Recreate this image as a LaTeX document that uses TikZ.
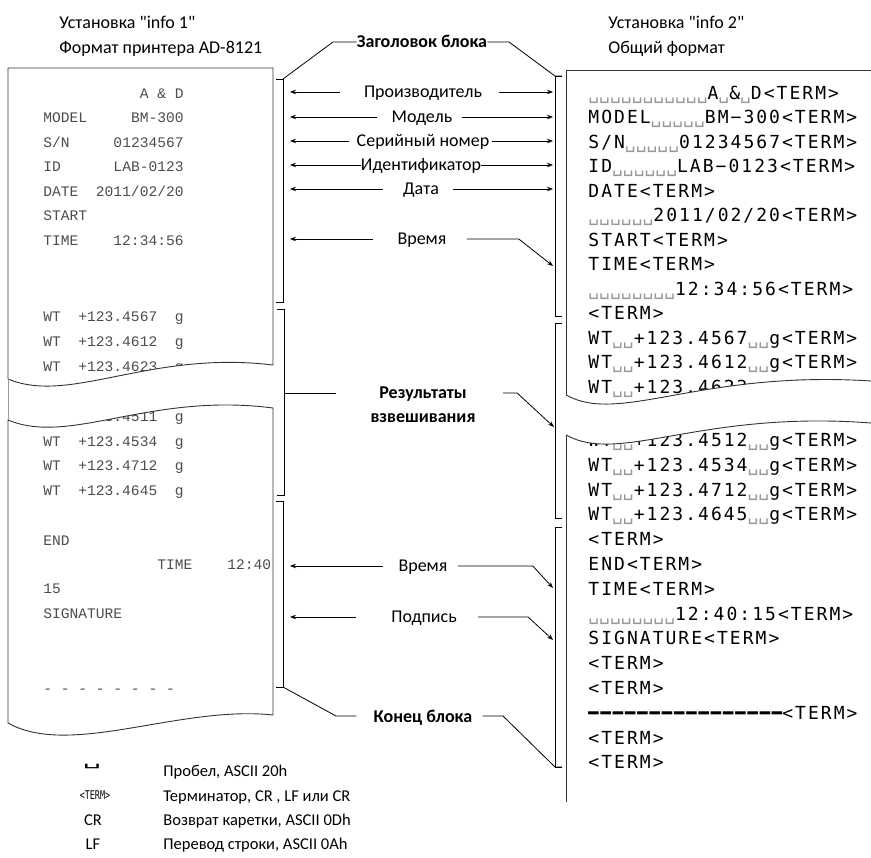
\documentclass[tikz,border=0pt]{standalone}
\usepackage{fontspec}
\setmainfont{Carlito}[Ligatures=TeXOff]
\newfontfamily\lmono{Liberation Mono}
\newfontfamily\rmono[LetterSpace=11.3]{DejaVu Sans Mono}
\newfontfamily\symfont{DejaVu Sans Mono}
\usetikzlibrary{arrows.meta}

% visible space and terminator
\newcommand{\spx}{{\color{black!40}\char"2423\relax}}
\newcommand{\sps}[1]{\foreach \n in {1,...,#1}{\spx}}
\newcommand{\dsh}[1]{\scalebox{0.951}[1]{\foreach \n in {1,...,#1}{\char"2501\relax}}}
\newcommand{\trm}{<TERM>}
\newcommand{\mns}{\char"2212\relax}

\tikzset{
  lbl/.style={inner sep=0pt, font=\fontsize{18}{20}\selectfont, text height=12pt, text depth=0pt},
  ttl/.style={lbl, font=\fontsize{18}{20}\selectfont\bfseries},
  lgd/.style={inner sep=0pt, anchor=west, font=\fontsize{16.5}{18}\selectfont, text height=11pt, text depth=0pt},
  lrow/.style={anchor=west, inner sep=0pt, text=black!70, font=\fontsize{14.6}{16}\lmono, text height=9pt, text depth=0pt},
  rrow/.style={anchor=west, inner sep=0pt, font=\fontsize{18}{20}\rmono, text height=13pt, text depth=0pt},
  paper/.style={line width=0.9pt, black!80},
}

\begin{document}
\begin{tikzpicture}[x=1pt, y=-1pt, line width=0.8pt, >={Stealth[length=6pt,width=4.5pt]}]
  \clip (0,0) rectangle (871,858);

  % headings
  \node[lbl, anchor=west] (set1) at (59,23) {Установка "info 1"};
  \node[lbl, anchor=west] (fmt1) at (59,48) {Формат принтера AD-8121};
  \node[lbl, anchor=west] (set2) at (608,23) {Установка "info 2"};
  \node[lbl, anchor=west] (fmt2) at (608,48) {Общий формат};

  % left printout
  \node[lrow] (l0) at (43,94) {~~~~~~~~~~~A~\&~D};
  \node[lrow] (l1) at (43,118.5) {MODEL~~~~~BM-300};
  \node[lrow] (l2) at (43,143) {S/N~~~~~01234567};
  \node[lrow] (l3) at (43,167.5) {ID~~~~~~LAB-0123};
  \node[lrow] (l4) at (43,192) {DATE~~2011/02/20};
  \node[lrow] (l5) at (43,216.5) {START};
  \node[lrow] (l6) at (43,241) {TIME~~~~12:34:56};
  \node[lrow] (l7) at (43,317) {WT~~+123.4567~~g};
  \node[lrow] (l8) at (43,342) {WT~~+123.4612~~g};
  \node[lrow] (l9) at (43,367) {WT~~+123.4623~~g};
  \node[lrow] (l10) at (43,417) {WT~~+123.4511~~g};
  \node[lrow] (l11) at (43,442) {WT~~+123.4534~~g};
  \node[lrow] (l12) at (43,466) {WT~~+123.4712~~g};
  \node[lrow] (l13) at (43,491) {WT~~+123.4645~~g};
  \node[lrow] (l14) at (43,541) {END};
  \node[lrow] (l15) at (43,565) {~~~~~~~~~~~~~TIME~~~~12:40};
  \node[lrow] (l16) at (43,589) {15};
  \node[lrow] (l17) at (43,614) {SIGNATURE};
  \node[lrow] (l18) at (43,689) {-~-~-~-~-~-~-~-};

  % right printout
  \node[rrow] (r0) at (588,93) {\sps{11}A\spx\&\spx D\trm};
  \node[rrow] (r1) at (588,117.5) {MODEL\sps{5}BM\mns 300\trm};
  \node[rrow] (r2) at (588,142) {S/N\sps{5}01234567\trm};
  \node[rrow] (r3) at (588,166.5) {ID\sps{6}LAB\mns 0123\trm};
  \node[rrow] (r4) at (588,191) {DATE\trm};
  \node[rrow] (r5) at (588,215.5) {\sps{6}2011/02/20\trm};
  \node[rrow] (r6) at (588,240) {START\trm};
  \node[rrow] (r7) at (588,264.5) {TIME\trm};
  \node[rrow] (r8) at (588,289) {\sps{8}12:34:56\trm};
  \node[rrow] (r9) at (588,313.5) {\trm};
  \node[rrow] (r10) at (588,338) {WT\sps{2}+123.4567\sps{2}g\trm};
  \node[rrow] (r11) at (588,362.5) {WT\sps{2}+123.4612\sps{2}g\trm};
  \node[rrow] (r12) at (588,387) {WT\sps{2}+123.4623\sps{2}g\trm};
  \node[rrow] (r13) at (588,440) {WT\sps{2}+123.4512\sps{2}g\trm};
  \node[rrow] (r14) at (588,464.8) {WT\sps{2}+123.4534\sps{2}g\trm};
  \node[rrow] (r15) at (588,489.6) {WT\sps{2}+123.4712\sps{2}g\trm};
  \node[rrow] (r16) at (588,514.4) {WT\sps{2}+123.4645\sps{2}g\trm};
  \node[rrow] (r17) at (588,539.2) {\trm};
  \node[rrow] (r18) at (588,564) {END\trm};
  \node[rrow] (r19) at (588,588.8) {TIME\trm};
  \node[rrow] (r20) at (588,613.6) {\sps{8}12:40:15\trm};
  \node[rrow] (r21) at (588,638.4) {SIGNATURE\trm};
  \node[rrow] (r22) at (588,663.2) {\trm};
  \node[rrow] (r23) at (588,688) {\trm};
  \node[rrow] (r24) at (588,712.8) {\dsh{16}\trm};
  \node[rrow] (r25) at (588,737.6) {\trm};
  \node[rrow] (r26) at (588,762.4) {\trm};

  % torn gaps
  \fill[white] (7,379) .. controls (70,405) and (150,350) .. (273,365) -- (273,408)
    .. controls (150,392) and (70,446) .. (7,420) -- cycle;
  \fill[white] (566,395) .. controls (620,425) and (700,370) .. (871,381) -- (875,381) -- (875,423)
    -- (871,423) .. controls (700,410) and (620,465) .. (566,435) -- cycle;

  % paper outlines
  \draw[paper] (273,365) -- (273,68) -- (8,68) -- (8,379) .. controls (70,405) and (150,350) .. (273,365);
  \draw[paper] (8,420) .. controls (70,446) and (150,392) .. (273,408) -- (273,715)
    .. controls (180,705) and (70,758) .. (8,723) -- cycle;
  \draw[black!40] (8,379) -- (8,420);
  \draw[paper] (566,395) .. controls (620,425) and (700,370) .. (871,381);
  \draw[paper] (566,395) -- (566,70) -- (880,70);
  \draw[paper] (566,435) .. controls (620,465) and (700,410) .. (871,423);
  \draw[paper] (566,435) -- (566,802);

  % brackets
  \draw (276,79) -- (283,79) -- (283,302) -- (276,302);
  \draw (277,309) -- (284,309) -- (284,495) -- (277,495);
  \draw (276,501) -- (283,501) -- (283,687) -- (276,687);
  \draw (562,76) -- (555,76) -- (555,316) -- (562,316);
  \draw (562,323) -- (555,323) -- (555,518) -- (562,518);
  \draw (562,527) -- (555,527) -- (555,767) -- (562,767);

  \coordinate (lt) at (290,0);
  \coordinate (rt) at (553,0);
  \coordinate (hdL) at (283,79);
  \coordinate (hdR) at (555,76);
  \coordinate (wtL) at (284,393);
  \coordinate (wtR) at (554,427);
  \coordinate (enL) at (283,687);
  \coordinate (enR) at (555,767);
  \coordinate (tm1R) at (553,266);
  \coordinate (tm2R) at (553,588);
  \coordinate (sigR) at (553,640);

  % labels
  \node[ttl] (hdr) at (422,42) {Заголовок блока};
  \node[lbl] (man) at (423,92) {Производитель};
  \node[lbl] (mdl) at (422,117) {Модель};
  \node[lbl] (sn) at (423,141) {Серийный номер};
  \node[lbl] (idf) at (421,165) {Идентификатор};
  \node[lbl] (dat) at (421,189) {Дата};
  \node[lbl] (tm1) at (422,239) {Время};
  \node[ttl] (res1) at (423,393) {Результаты};
  \node[ttl] (res2) at (423,417) {взвешивания};
  \node[lbl] (tm2) at (423,566) {Время};
  \node[lbl] (sig) at (424,617) {Подпись};
  \node[ttl] (end) at (423,716) {Конец блока};

  % connectors
  \draw (hdL) -- (333,42) -- (hdr.west);
  \draw (hdr.east) -- (509,42) -- (hdR) -- ++(7,0);
  \draw[->] ([xshift=-24pt]man.west) -- (man -| lt);
  \draw[->] ([xshift=17pt]man.east) -- (man -| rt);
  \draw[->] ([xshift=-14pt]mdl.west) -- (mdl -| lt);
  \draw[->] ([xshift=9pt]mdl.east) -- (mdl -| rt);
  \draw[->] ([xshift=-7pt]sn.west) -- (sn -| lt);
  \draw[->] ([xshift=2pt]sn.east) -- (sn -| rt);
  \draw[->] (idf.west) -- (idf -| lt);
  \draw[->] (idf.east) -- (idf -| rt);
  \draw[->] ([xshift=-20pt]dat.west) -- (dat -| lt);
  \draw[->] ([xshift=14pt]dat.east) -- (dat -| rt);
  \draw[->] ([xshift=-24pt]tm1.west) -- (tm1 -| lt);
  \draw[->] ([xshift=20pt]tm1.east) -- ++(52,0) -- (tm1R);
  \draw (wtL) -- ([xshift=-43pt]res1.west);
  \draw[->] ([xshift=36pt]res1.east) -- ++(14,0) -- (wtR);
  \draw[->] ([xshift=-15pt]tm2.west) -- (tm2 -| lt);
  \draw[->] ([xshift=10pt]tm2.east) -- ++(75,0) -- (tm2R);
  \draw[->] ([xshift=-35pt]sig.west) -- (sig -| lt);
  \draw[->] ([xshift=21pt]sig.east) -- ++(50,0) -- (sigR);
  \draw (enL) -- (336,716) -- ([xshift=-17pt]end.west);
  \draw ([xshift=10pt]end.east) -- (503,716) -- (enR) -- ++(7,0);

  % legend
  \node[font=\fontsize{16}{18}\symfont, inner sep=0pt] (k1) at (92,767) {\scalebox{1.9}[0.9]{\char"2423\relax}};
  \node[font=\fontsize{12}{14}\symfont, inner sep=0pt] (k2) at (95,795) {\scalebox{0.7}[1]{\trm}};
  \node[lgd, anchor=center] (k3) at (93,820) {CR};
  \node[lgd, anchor=center] (k4) at (93,844) {LF};
  \node[lgd] (t1) at (163,771) {Пробел, ASCII 20h};
  \node[lgd] (t2) at (163,796) {Терминатор, CR , LF или CR};
  \node[lgd] (t3) at (163,820) {Возврат каретки, ASCII 0Dh};
  \node[lgd] (t4) at (163,844) {Перевод строки, ASCII 0Ah};
\end{tikzpicture}
\end{document}
